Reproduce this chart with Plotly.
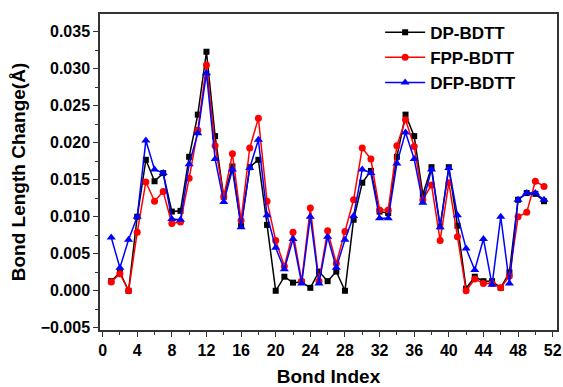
import plotly.graph_objects as go

bond_index = list(range(1, 52))

dp_bdtt = [0.0013, 0.0025, 0.0000, 0.0100, 0.0177, 0.0148, 0.0159, 0.0107, 0.0108, 0.0181,
           0.0238, 0.0323, 0.0209, 0.0127, 0.0168, 0.0088, 0.0167, 0.0177, 0.0089, 0.0000,
           0.0019, 0.0011, 0.0012, 0.0004, 0.0026, 0.0013, 0.0026, 0.0000, 0.0096, 0.0146,
           0.0162, 0.0107, 0.0105, 0.0181, 0.0238, 0.0209, 0.0130, 0.0167, 0.0087, 0.0167,
           0.0088, 0.0003, 0.0019, 0.0013, 0.0013, 0.0004, 0.0025, 0.0123, 0.0132, 0.0131,
           0.0121]
fpp_bdtt = [0.0012, 0.0023, 0.0000, 0.0079, 0.0147, 0.0121, 0.0134, 0.0091, 0.0093, 0.0152,
            0.0217, 0.0305, 0.0196, 0.0127, 0.0185, 0.0095, 0.0193, 0.0233, 0.0121, 0.0068,
            0.0033, 0.0079, 0.0013, 0.0112, 0.0013, 0.0081, 0.0037, 0.0080, 0.0123, 0.0193,
            0.0178, 0.0109, 0.0109, 0.0196, 0.0231, 0.0195, 0.0123, 0.0143, 0.0068, 0.0146,
            0.0073, 0.0000, 0.0016, 0.0010, 0.0010, 0.0004, 0.0020, 0.0100, 0.0106, 0.0148,
            0.0141]
dfp_bdtt = [0.0072, 0.0031, 0.0069, 0.0100, 0.0203, 0.0164, 0.0159, 0.0097, 0.0096, 0.0171,
            0.0213, 0.0294, 0.0178, 0.0120, 0.0164, 0.0086, 0.0166, 0.0204, 0.0102, 0.0058,
            0.0029, 0.0070, 0.0010, 0.0100, 0.0010, 0.0073, 0.0031, 0.0069, 0.0101, 0.0164,
            0.0159, 0.0098, 0.0098, 0.0172, 0.0214, 0.0178, 0.0119, 0.0164, 0.0086, 0.0166,
            0.0102, 0.0057, 0.0028, 0.0070, 0.0008, 0.0100, 0.0010, 0.0123, 0.0132, 0.0132,
            0.0123]

FONT = "Arial, Liberation Sans, sans-serif"

fig = go.Figure()
fig.add_trace(go.Scatter(x=bond_index, y=dp_bdtt, mode="lines+markers", name="DP-BDTT",
                         line=dict(color="black", width=1.5),
                         marker=dict(symbol="square", size=6, color="black")))
fig.add_trace(go.Scatter(x=bond_index, y=fpp_bdtt, mode="lines+markers", name="FPP-BDTT",
                         line=dict(color="#ff0000", width=1.5),
                         marker=dict(symbol="circle", size=7, color="#ff0000")))
fig.add_trace(go.Scatter(x=bond_index, y=dfp_bdtt, mode="lines+markers", name="DFP-BDTT",
                         line=dict(color="#0000ff", width=1.5),
                         marker=dict(symbol="triangle-up", size=8, color="#0000ff")))

axis_common = dict(showline=True, linecolor="#333333", linewidth=1.5, mirror=True,
                   ticks="outside", ticklen=5, tickwidth=1.2, tickcolor="#333333",
                   showgrid=False, zeroline=False, automargin=False,
                   tickfont=dict(family=FONT, size=16, color="black", weight="bold"))

fig.update_xaxes(range=[-0.3, 52.5], tickmode="linear", tick0=0, dtick=4,
                 minor=dict(dtick=2, ticks="outside", ticklen=3, tickcolor="#333333"),
                 title=dict(text="Bond Index", font=dict(family=FONT, size=19, color="black", weight="bold"),
                            standoff=12),
                 **axis_common)
fig.update_yaxes(range=[-0.0053, 0.0374], tickmode="linear", tick0=0, dtick=0.005,
                 tickformat=".3f",
                 minor=dict(dtick=0.0025, ticks="outside", ticklen=3, tickcolor="#333333"),
                 title=dict(text="Bond Length Change(Å)", font=dict(family=FONT, size=19, color="black", weight="bold"),
                            standoff=10),
                 **axis_common)

fig.update_layout(
    width=563, height=387,
    margin=dict(l=100, r=6, t=14, b=57),
    plot_bgcolor="white", paper_bgcolor="white",
    legend=dict(x=0.613, y=0.998, xanchor="left", yanchor="top",
                bgcolor="rgba(0,0,0,0)", borderwidth=0,
                font=dict(family=FONT, size=17, color="black", weight="bold"),
                itemwidth=40, tracegroupgap=0),
    showlegend=True,
)

fig.write_html("out.html")
